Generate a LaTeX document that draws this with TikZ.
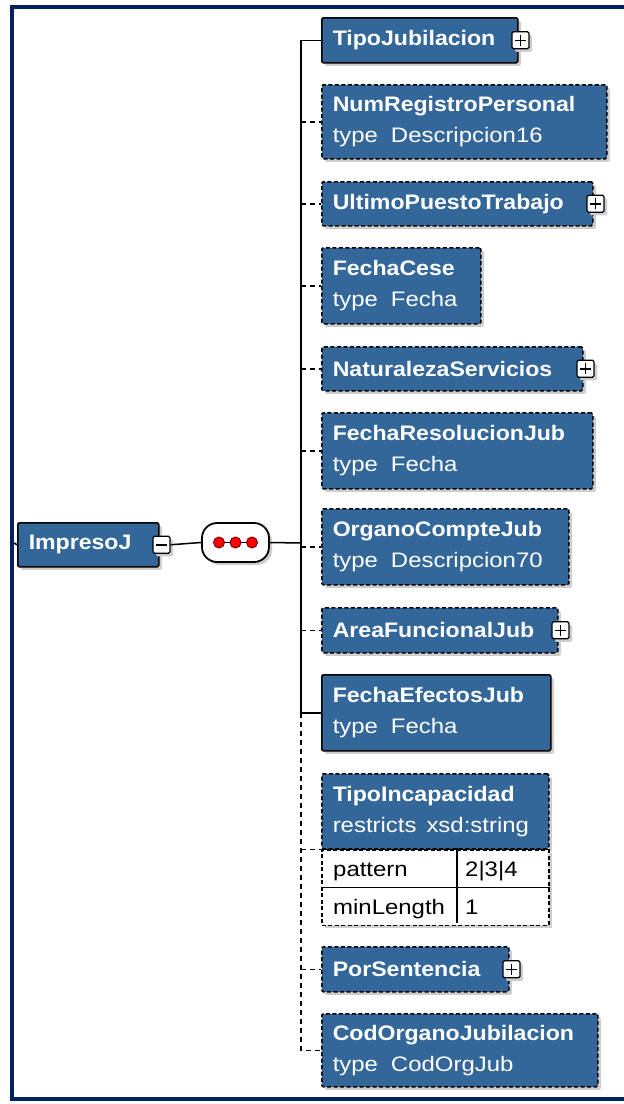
\documentclass[tikz,border=0pt]{standalone}
\usepackage{fontspec}
\setmainfont{Liberation Sans}
\newfontfamily\elfont[FakeStretch=1.1]{Liberation Sans}
\newfontfamily\regfont[FakeStretch=1.14]{Liberation Sans}
\usetikzlibrary{shadows}
\definecolor{elblue}{RGB}{51,102,153}
\definecolor{framenavy}{RGB}{0,32,96}
\definecolor{shadowgray}{RGB}{205,205,205}
\newcommand{\tline}[1]{{\regfont #1}}
\tikzset{
  elshadow/.style={drop shadow={shadow xshift=3pt, shadow yshift=-3pt, opacity=1, fill=shadowgray}},
  elbox/.style={elshadow, fill=elblue, draw=black, line width=1.5pt, rounded corners=1.5pt, anchor=north west, inner xsep=11pt, inner ysep=0pt, text=white, font=\elfont\fontsize{21}{31}\selectfont, align=left},
  elsolid/.style={elbox},
  eldashed/.style={elbox, dash pattern=on 4pt off 2.5pt},
  pmbox/.style={elshadow, fill=white, draw=black, line width=1.3pt, minimum size=17pt, inner sep=0pt, rounded corners=1.5pt},
  pmplus/.style={pmbox, path picture={\draw[line width=1.5pt] ([xshift=-5.5pt]path picture bounding box.center) -- ([xshift=5.5pt]path picture bounding box.center) ([yshift=-5.5pt]path picture bounding box.center) -- ([yshift=5.5pt]path picture bounding box.center);}},
  pmminus/.style={pmbox, path picture={\draw[line width=1.5pt] ([xshift=-5.5pt]path picture bounding box.center) -- ([xshift=5.5pt]path picture bounding box.center);}},
  conn/.style={draw=black, line width=1.5pt},
  dconn/.style={conn, dash pattern=on 5pt off 4pt},
  seqbox/.style={elshadow, fill=white, draw=black, line width=1.8pt, rounded corners=15pt, minimum width=67pt, minimum height=39pt, inner sep=0pt},
  tabbox/.style={elshadow, fill=white, draw=black, line width=1.5pt, dash pattern=on 4pt off 2.5pt, anchor=north west, inner sep=0pt},
  celltext/.style={anchor=base west, inner sep=0pt, text=black, font=\regfont\fontsize{21}{30}\selectfont},
  seqdot/.style={circle, fill=red, draw=black!55!red, line width=0.9pt, minimum size=11pt, inner sep=0pt},
  framebar/.style={draw=framenavy, line width=4pt},
  tabline/.style={draw=black, line width=1.2pt},
}
\begin{document}
\begin{tikzpicture}[x=1pt, y=-1pt]
\useasboundingbox (0,0) rectangle (624,1104);
% frame
\draw[framebar] (10,7) -- (624,7);
\draw[framebar] (12,5) -- (12,1101);
\draw[framebar] (10,1099) -- (624,1099);

\coordinate (bus) at (301,543);
\coordinate (framel) at (14,543);

% root
\node[elsolid, text width=119pt, minimum height=44pt] (imp) at (17,522) {\textbf{ImpresoJ}};
\node[pmminus] (impmin) at ([xshift=2pt]imp.east) {};
\draw[conn] (framel) -- (imp.west);

% sequence
\node[seqbox] (seq) at (235.5,542.5) {};
\draw[line width=1.4pt] ([xshift=-16.5pt]seq.center) -- ([xshift=16.5pt]seq.center);
\node[seqdot] (d1) at ([xshift=-16.5pt]seq.center) {};
\node[seqdot] (d2) at (seq.center) {};
\node[seqdot] (d3) at ([xshift=16.5pt]seq.center) {};
\draw[conn] (impmin.east) -- (seq.west);
\draw[conn] (seq.east) -- (bus);

% children
\node[elsolid, text width=174pt, minimum height=45pt] (tipo) at (321,17) {\textbf{TipoJubilacion}};
\node[pmplus] (tipop) at ([xshift=2pt]tipo.east) {};

\node[eldashed, text width=263pt, minimum height=74pt] (numreg) at (321,84) {\textbf{NumRegistroPersonal}\\\tline{type\hspace{6pt} Descripcion16}};

\node[eldashed, text width=249pt, minimum height=44pt] (ultimo) at (321,181) {\textbf{UltimoPuestoTrabajo}};
\node[pmplus] (ultimop) at ([xshift=2pt]ultimo.east) {};

\node[eldashed, text width=137pt, minimum height=76pt] (fcese) at (321,247) {\textbf{FechaCese}\\\tline{type\hspace{6pt} Fecha}};

\node[eldashed, text width=239pt, minimum height=44pt] (natur) at (321,346) {\textbf{NaturalezaServicios}};
\node[pmplus] (naturp) at ([xshift=2pt]natur.east) {};

\node[eldashed, text width=249pt, minimum height=76pt] (fres) at (321,412) {\textbf{FechaResolucionJub}\\\tline{type\hspace{6pt} Fecha}};

\node[eldashed, text width=225pt, minimum height=76pt] (organo) at (321,508) {\textbf{OrganoCompteJub}\\\tline{type\hspace{6pt} Descripcion70}};

\node[eldashed, text width=214pt, minimum height=45pt] (area) at (321,607) {\textbf{AreaFuncionalJub}};
\node[pmplus] (areap) at ([xshift=2pt]area.east) {};

\node[elsolid, text width=207pt, minimum height=76pt] (fefe) at (321,674) {\textbf{FechaEfectosJub}\\\tline{type\hspace{6pt} Fecha}};

\node[eldashed, text width=205pt, minimum height=75pt] (tinc) at (321,773) {\textbf{TipoIncapacidad}\\\tline{restricts\hspace{3pt} xsd:string}};
\node[tabbox, minimum width=227pt, minimum height=75pt] (ttab) at (tinc.south west) {};
\draw[tabline] (ttab.north west) -- (ttab.north east);
\draw[tabline] (ttab.west) -- (ttab.east);
\coordinate (divtop) at (457,848);
\coordinate (divbot) at (457,923);
\draw[tabline] (divtop) -- (divbot);
\node[celltext] (c1) at (333,876) {pattern};
\node[celltext] (c2) at (465,876) {2|3|4};
\node[celltext] (c3) at (333,914) {minLength};
\node[celltext] (c4) at (465,914) {1};

\node[eldashed, text width=165pt, minimum height=45pt] (pors) at (321,946) {\textbf{PorSentencia}};
\node[pmplus] (porsp) at ([xshift=2pt]pors.east) {};

\node[eldashed, text width=254pt, minimum height=73pt] (cod) at (321,1013) {\textbf{CodOrganoJubilacion}\\\tline{type\hspace{6pt} CodOrgJub}};

% bus and connectors
\draw[conn] (tipo.west) -- (tipo.west -| bus) -- (fefe.west -| bus) -- (fefe.west);
\draw[dconn] (fefe.west -| bus) -- (cod.west -| bus) -- (cod.west);
\foreach \n in {numreg,ultimo,fcese,natur,fres,organo,area,pors}
  \draw[dconn] (\n.west -| bus) -- (\n.west);
\draw[dconn] (tinc.south west -| bus) -- (tinc.south west);
\end{tikzpicture}
\end{document}
